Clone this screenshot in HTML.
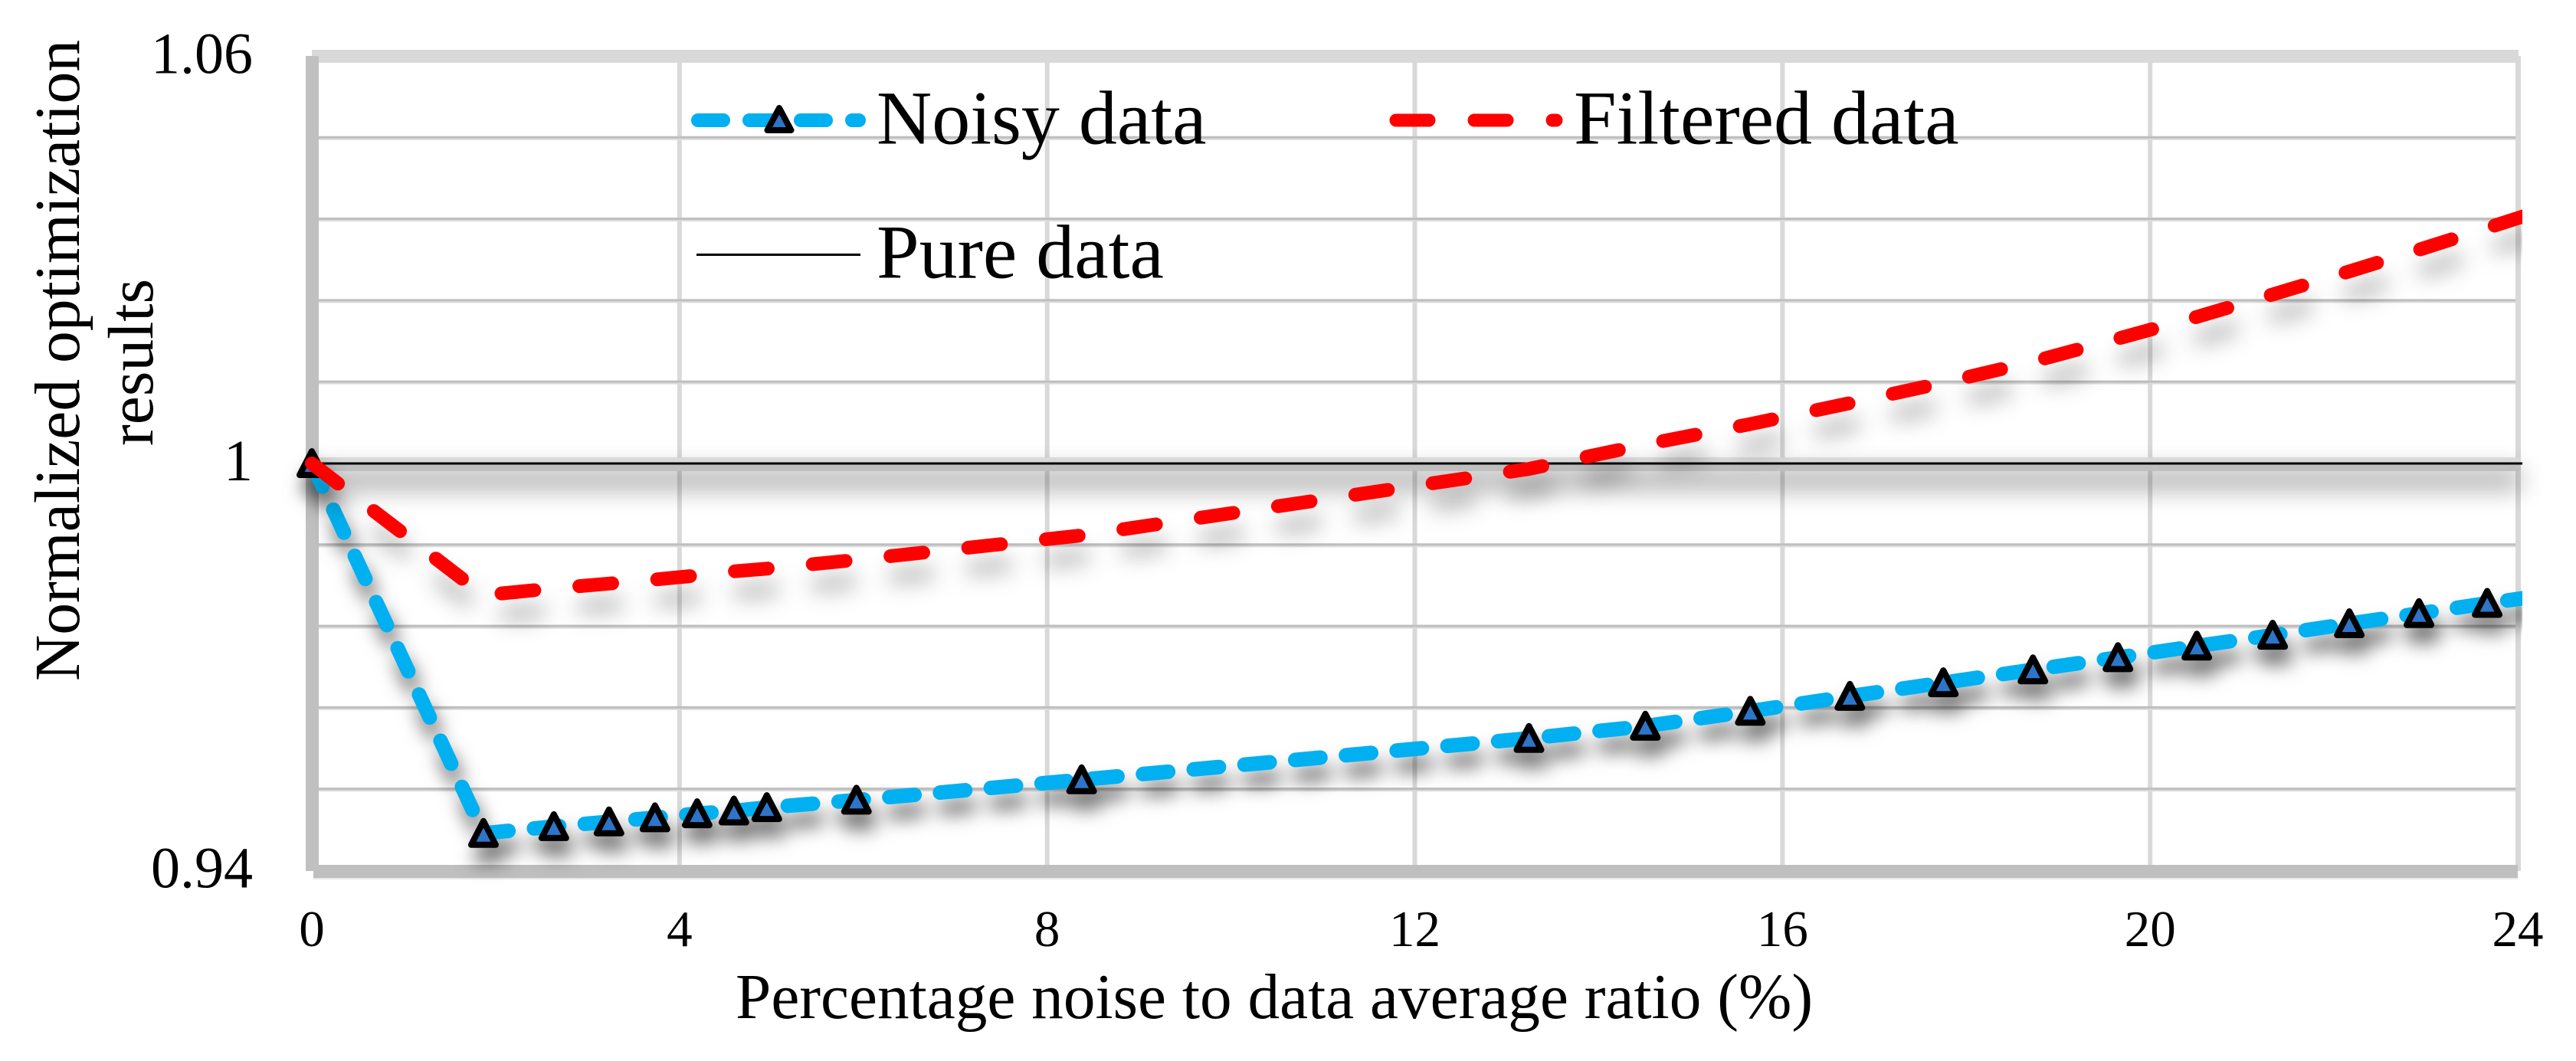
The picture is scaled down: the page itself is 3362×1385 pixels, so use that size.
<!DOCTYPE html>
<html lang="en">
<head>
<meta charset="utf-8">
<title>Normalized optimization results vs noise ratio</title>
<style>
html,body{margin:0;padding:0;background:#fff;width:3362px;height:1385px;overflow:hidden}
svg{display:block}
text{font-family:"Liberation Serif","Times New Roman",serif;fill:#000}
</style>
</head>
<body>
<svg id="chart" xmlns="http://www.w3.org/2000/svg" width="3362" height="1385" viewBox="0 0 3362 1385">
<defs>
<filter id="shadow-blue" x="-10%" y="-40%" width="120%" height="200%" color-interpolation-filters="sRGB">
<feDropShadow dx="6" dy="20" stdDeviation="12" flood-color="#000" flood-opacity="0.55"/>
</filter>
<filter id="shadow-red" x="-10%" y="-40%" width="120%" height="200%" color-interpolation-filters="sRGB">
<feDropShadow dx="6" dy="27" stdDeviation="14" flood-color="#000" flood-opacity="0.3"/>
</filter>
<filter id="soft-blur" x="-5%" y="-400%" width="110%" height="900%">
<feGaussianBlur stdDeviation="16"/>
</filter>
<clipPath id="plot-clip"><rect x="300" y="40" width="2992" height="1120"/></clipPath>
</defs>
<rect x="0" y="0" width="3362" height="1385" fill="#fff"/>
<g id="grid"></g>
<g id="frame"></g>
<g id="ticks"></g>
<g id="series" clip-path="url(#plot-clip)"></g>
<text x="960" y="1329" font-size="83.3">Percentage noise to data average ratio (%)</text>
<text transform="translate(103,470.5) rotate(-90)" text-anchor="middle" font-size="83.5">Normalized optimization</text>
<text transform="translate(199,473) rotate(-90)" text-anchor="middle" font-size="83.5">results</text>
<g>
<g>
<line x1="911" y1="157" x2="1121" y2="157" stroke="#00b0f0" stroke-width="18" stroke-linecap="round" stroke-dasharray="33 34"/>
<path d="M1017 141 L1032.5 170 L1001.5 170 Z" fill="#2e75c9" stroke="#000" stroke-width="8" stroke-linejoin="round"/>
<text x="1144" y="187.5" font-size="100">Noisy data</text>
</g>
<g>
<line x1="1822" y1="157" x2="2031" y2="157" stroke="#ff0000" stroke-width="17" stroke-linecap="round" stroke-dasharray="43 59"/>
<text x="2054" y="187.5" font-size="100">Filtered data</text>
</g>
<g>
<line x1="909" y1="332.5" x2="1123" y2="332.5" stroke="#000" stroke-width="3"/>
<text x="1144" y="362.5" font-size="100">Pure data</text>
</g>
</g>
</svg>
<script>
var xTickValues = [0, 4, 8, 12, 16, 20, 24];
var xTickLabels = ['0', '4', '8', '12', '16', '20', '24'];
var yGridValues = [1.048, 1.036, 1.024, 1.012, 0.988, 0.976, 0.964, 0.952];
var yTickValues = [1.06, 1, 0.94];
var yTickLabels = ['1.06', '1', '0.94'];
var noiseRatio = [0, 1.867, 2.633, 3.233, 3.733, 4.192, 4.592, 4.95, 5.925, 8.375, 13.242, 14.508, 15.65, 16.733, 17.75, 18.725, 19.65, 20.508, 21.333, 22.167, 22.925, 23.667, 24.4];
var noisyValues = [1, 0.9455, 0.9465, 0.9472, 0.9478, 0.9484, 0.9488, 0.9493, 0.9504, 0.9534, 0.9595, 0.9613, 0.9635, 0.9657, 0.9677, 0.9696, 0.9714, 0.9731, 0.9747, 0.9764, 0.9779, 0.9794, 0.9808];
var filteredValues = [1, 0.9806, 0.9816, 0.9823, 0.9829, 0.9835, 0.9841, 0.9845, 0.9858, 0.9894, 0.9992, 1.0028, 1.0058, 1.0089, 1.0119, 1.015, 1.0184, 1.0216, 1.0249, 1.0283, 1.0315, 1.0347, 1.0379];
var pureValues = [1, 1];
var pureRatio = [0, 24.05];

var NS = 'http://www.w3.org/2000/svg';
function xScale(v) { return 407 + v * 119.96; }
function yScale(v) { return 605 - (v - 1) / 0.012 * 106.3; }
function make(tag, attrs, parent) {
  var el = document.createElementNS(NS, tag);
  for (var k in attrs) el.setAttribute(k, attrs[k]);
  parent.appendChild(el);
  return el;
}
function linePath(xs, ys) {
  var d = '';
  for (var i = 0; i < xs.length; i++) {
    d += (i ? 'L' : 'M') + xScale(xs[i]).toFixed(1) + ' ' + yScale(ys[i]).toFixed(1) + ' ';
  }
  return d;
}

var grid = document.getElementById('grid');
var frame = document.getElementById('frame');
var ticks = document.getElementById('ticks');
var series = document.getElementById('series');
var el, i;

for (i = 1; i < xTickValues.length - 1; i++) {
  el = make('rect', {x: xScale(xTickValues[i]) - 3, y: 82, width: 6, height: 1048, fill: '#d9d9d9'}, grid);
  
  
}
for (i = 0; i < yGridValues.length; i++) {
  el = make('rect', {x: 414, y: yScale(yGridValues[i]) - 2, width: 2870, height: 5, fill: '#dcdcdc'}, grid);
  
  
  el = make('rect', {x: 414, y: yScale(yGridValues[i]) - 2, width: 2870, height: 3, fill: '#bfbfbf'}, grid);
  
  
}

el = make('rect', {x: 407, y: 65, width: 2880, height: 17, fill: '#d9d9d9'}, frame);


el = make('rect', {x: 3283, y: 73, width: 7, height: 1064, fill: '#d9d9d9'}, frame);


el = make('rect', {x: 409, y: 1146, width: 2877, height: 2, fill: '#e8e8e8'}, frame);


el = make('rect', {x: 409, y: 1129, width: 2877, height: 17, fill: '#bfbfbf'}, frame);


el = make('rect', {x: 399, y: 73, width: 17, height: 1064, fill: '#c0c0c0'}, frame);


el = make('rect', {x: 414, y: yScale(1) + 8, width: 2876, height: 26, fill: '#000', opacity: 0.32, filter: 'url(#soft-blur)'}, frame);


el = make('rect', {x: 416, y: yScale(1) - 8, width: 2874, height: 8, fill: '#d9d9d9'}, frame);


el = make('rect', {x: 416, y: yScale(1), width: 2874, height: 10, fill: '#bfbfbf'}, frame);



for (i = 0; i < xTickValues.length; i++) {
  el = make('text', {x: xScale(xTickValues[i]), y: 1235, 'text-anchor': 'middle', 'font-size': 67}, ticks);
  el.textContent = xTickLabels[i];
  
  
}
for (i = 0; i < yTickValues.length; i++) {
  el = make('text', {x: 330, y: yScale(yTickValues[i]) + 22, 'text-anchor': 'end', 'font-size': 76}, ticks);
  el.textContent = yTickLabels[i];
  
  
}

el = make('path', {d: linePath(pureRatio, pureValues), fill: 'none', stroke: '#000', 'stroke-width': 3}, series);



var noisyGroup = make('g', {filter: 'url(#shadow-blue)'}, series);


el = make('path', {d: linePath(noiseRatio, noisyValues), fill: 'none', stroke: '#00b0f0', 'stroke-width': 19, 'stroke-linecap': 'round', 'stroke-linejoin': 'round', 'stroke-dasharray': '33 33.5'}, noisyGroup);


for (i = 0; i < noiseRatio.length; i++) {
  var mx = xScale(noiseRatio[i]);
  var my = yScale(noisyValues[i]);
  el = make('path', {d: 'M' + mx + ' ' + (my - 16) + ' L' + (mx + 16) + ' ' + (my + 15) + ' L' + (mx - 16) + ' ' + (my + 15) + ' Z', fill: '#2e75c9', stroke: '#000', 'stroke-width': 8, 'stroke-linejoin': 'round'}, noisyGroup);
  
  
}

el = make('path', {d: linePath(noiseRatio, filteredValues), fill: 'none', stroke: '#ff0000', 'stroke-width': 18, 'stroke-linecap': 'round', 'stroke-linejoin': 'round', 'stroke-dasharray': '43 59', filter: 'url(#shadow-red)'}, series);


</script>
</body>
</html>
